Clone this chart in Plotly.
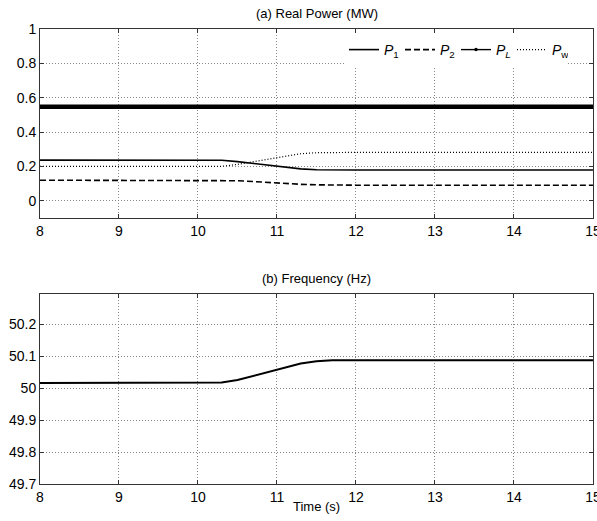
import plotly.graph_objects as go

# Time axis (s)
time = [8, 10.2, 10.3, 10.5, 10.7, 10.9, 11.1, 11.3, 11.5, 11.7, 12, 15]

# Real power (MW)
p1 = [0.237, 0.237, 0.236, 0.228, 0.217, 0.205, 0.195, 0.186, 0.181, 0.179, 0.179, 0.179]
p2 = [0.12, 0.12, 0.12, 0.117, 0.112, 0.106, 0.101, 0.096, 0.093, 0.091, 0.091, 0.091]
pl = [0.548] * 12
pw = [0.2, 0.2, 0.201, 0.212, 0.228, 0.245, 0.262, 0.274, 0.28, 0.282, 0.282, 0.282]

# Frequency (Hz)
freq = [50.016, 50.016, 50.017, 50.025, 50.038, 50.053, 50.066, 50.077, 50.084, 50.087, 50.087, 50.087]

x_ticks = [8, 9, 10, 11, 12, 13, 14, 15]
y1_ticks = [0, 0.2, 0.4, 0.6, 0.8, 1]
y1_labels = ["0", "0.2", "0.4", "0.6", "0.8", "1"]
y2_ticks = [49.7, 49.8, 49.9, 50, 50.1, 50.2]
y2_labels = ["49.7", "49.8", "49.9", "50", "50.1", "50.2"]

FONT = "Liberation Sans, Arial, sans-serif"
W, H = 597, 521
L, R = 40, 4

fig = go.Figure()
# P_L legend entry ('.-' style) drawn first so the thick body covers its markers
fig.add_trace(go.Scatter(x=time, y=pl, mode="lines+markers", name="<i>P</i><sub><i>L</i></sub>",
                         legendgroup="pl", legendrank=3,
                         line=dict(color="black", width=1.4), marker=dict(size=3.5, color="black"),
                         xaxis="x", yaxis="y"))
fig.add_trace(go.Scatter(x=time, y=p1, mode="lines", name="<i>P</i><sub>1</sub>", legendrank=1,
                         line=dict(color="black", width=1.6), xaxis="x", yaxis="y"))
fig.add_trace(go.Scatter(x=time, y=p2, mode="lines", name="<i>P</i><sub>2</sub>", legendrank=2,
                         line=dict(color="black", width=1.6, dash="6px,3px"), xaxis="x", yaxis="y"))
fig.add_trace(go.Scatter(x=time, y=pl, mode="lines", showlegend=False, legendgroup="pl",
                         line=dict(color="black", width=4.5), xaxis="x", yaxis="y"))
fig.add_trace(go.Scatter(x=time, y=pw, mode="lines", name="<i>P</i><sub>w</sub>", legendrank=4,
                         line=dict(color="black", width=1.2, dash="1px,2px"), xaxis="x", yaxis="y"))
fig.add_trace(go.Scatter(x=time, y=freq, mode="lines", showlegend=False,
                         line=dict(color="black", width=2), xaxis="x2", yaxis="y2"))

axis_common = dict(showline=True, linecolor="#333", linewidth=1, mirror="ticks",
                   ticks="inside", ticklen=4, tickcolor="#333",
                   showgrid=True, gridcolor="#888", griddash="1px,2px", gridwidth=1,
                   zeroline=False, ticklabeloverflow="allow", automargin=False,
                   tickfont=dict(family=FONT, size=14, color="black"))

top_dom = [1 - 218 / H, 1 - 29 / H]
bot_dom = [1 - 484 / H, 1 - 294 / H]

fig.update_layout(
    template="none",
    width=W, height=H,
    margin=dict(l=L, r=R, t=0, b=0, autoexpand=False),
    paper_bgcolor="white", plot_bgcolor="white",
    font=dict(family=FONT, size=13, color="black"),
    xaxis=dict(range=[8, 15.0005], tickvals=x_ticks, domain=[0, 1], anchor="y", **axis_common),
    yaxis=dict(range=[-0.1, 1], tickvals=y1_ticks, ticktext=y1_labels, domain=top_dom,
               anchor="x", **axis_common),
    xaxis2=dict(range=[8, 15.0005], tickvals=x_ticks, domain=[0, 1], anchor="y2", **axis_common),
    yaxis2=dict(range=[49.7, 50.294], tickvals=y2_ticks, ticktext=y2_labels, domain=bot_dom,
                anchor="x2", **axis_common),
    legend=dict(orientation="h", x=(568 - L) / (W - L - R), xanchor="right",
                y=1 - 34 / H, yanchor="top", bgcolor="white", borderwidth=0,
                itemwidth=30, entrywidth=11, entrywidthmode="pixels",
                font=dict(family=FONT, size=14, color="black"),
                tracegroupgap=0),
    annotations=[
        dict(text="(a) Real Power (MW)", x=0.5, xref="paper", y=1 - 13 / H, yref="paper",
             showarrow=False, xanchor="center", yanchor="middle", font=dict(size=13)),
        dict(text="(b) Frequency (Hz)", x=0.5, xref="paper", y=1 - 278 / H, yref="paper",
             showarrow=False, xanchor="center", yanchor="middle", font=dict(size=13)),
        dict(text="Time (s)", x=0.5, xref="paper", y=1 - 506 / H, yref="paper",
             showarrow=False, xanchor="center", yanchor="middle", font=dict(size=13)),
    ],
)

fig.write_html("out.html")
